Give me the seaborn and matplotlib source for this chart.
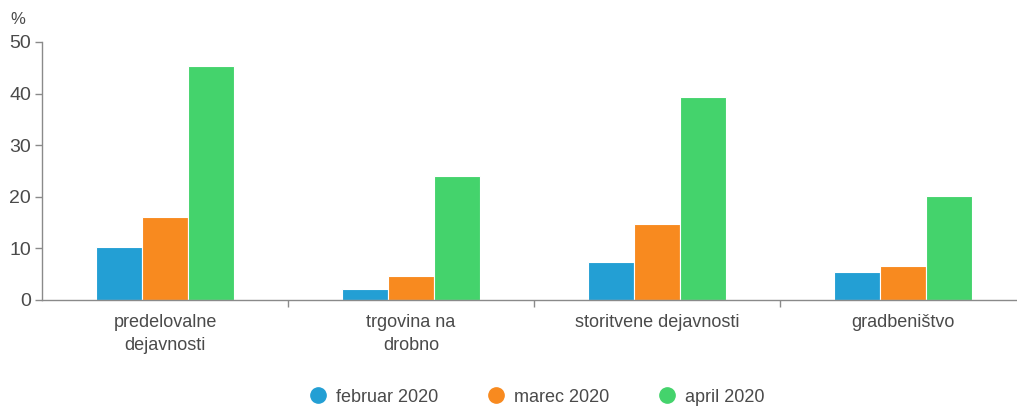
import pandas as pd
import numpy as np
import matplotlib
matplotlib.use("Agg")
import matplotlib.pyplot as plt
from matplotlib.lines import Line2D
import seaborn as sns

# data
categories = ["predelovalne\ndejavnosti", "trgovina na\ndrobno", "storitvene dejavnosti", "gradbeništvo"]
months = ["februar 2020", "marec 2020", "april 2020"]
feb = [10.3, 2.1, 7.4, 5.4]
mar = [16.1, 4.6, 14.7, 6.6]
apr = [45.3, 24.0, 39.3, 20.2]
colors = ["#239fd4", "#f88a1f", "#44d36c"]

df = pd.DataFrame({
    "kategorija": categories * 3,
    "mesec": [m for m in months for _ in categories],
    "vrednost": feb + mar + apr,
})

sns.set_style("white")
plt.rcParams["font.family"] = ["Liberation Sans", "DejaVu Sans"]

fig = plt.figure(figsize=(10.17, 4.08), dpi=100)
ax = fig.add_axes([42 / 1017, 1 - 300 / 408, 975 / 1017, 258 / 408])

sns.barplot(data=df, x="kategorija", y="vrednost", hue="mesec", order=categories,
            hue_order=months, palette=colors, width=0.565, edgecolor="white",
            linewidth=0.8, saturation=1, ax=ax, legend=False)

ax.set_ylim(0, 50)
ax.set_yticks(np.arange(0, 51, 10))
ax.set_xlim(-0.5, -0.5 + 975 / 246)
ax.set_xlabel("")
ax.set_ylabel("")

gray = "#8a8a8a"
for s in ["top", "right"]:
    ax.spines[s].set_visible(False)
for s in ["left", "bottom"]:
    ax.spines[s].set_color(gray)
    ax.spines[s].set_linewidth(1.0)

ax.tick_params(axis="y", direction="out", length=5, color=gray, width=1,
               labelsize=14, labelcolor="#4a4a4a", pad=3, left=True)
ax.set_xticks(range(len(categories)), categories, linespacing=1.45)
ax.tick_params(axis="x", which="major", length=0, labelsize=13, labelcolor="#4a4a4a", pad=10)
ax.set_xticks(np.arange(0.5, 3.5, 1), minor=True)
ax.tick_params(axis="x", which="minor", direction="out", length=5, color=gray, width=1, bottom=True)

fig.text(18 / 1017, 1 - 19 / 408, "%", fontsize=12, color="#4a4a4a", ha="center", va="center")

handles = [Line2D([0], [0], marker="o", linestyle="", markersize=11,
                  markerfacecolor=c, markeredgecolor=c) for c in colors]
fig.legend(handles, months, loc="center", bbox_to_anchor=(537 / 1017, 1 - 397 / 408), ncol=3,
           frameon=False, fontsize=13, labelcolor="#4a4a4a", columnspacing=2.7,
           handletextpad=0.5, handlelength=1.0)

fig.savefig("out.png", dpi=100, facecolor="white")
